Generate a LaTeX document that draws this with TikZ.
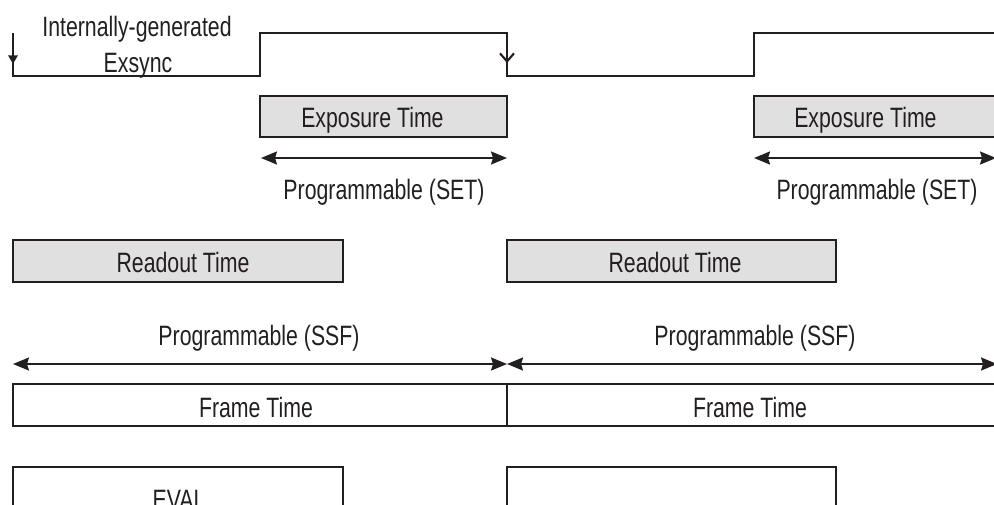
\documentclass[tikz,border=0pt]{standalone}
\usepackage{fontspec}
\setmainfont[FakeStretch=0.76]{Liberation Sans}
\usetikzlibrary{arrows.meta,fit}
\definecolor{ink}{RGB}{35,31,32}
\definecolor{shade}{RGB}{224,224,224}
\begin{document}
\begin{tikzpicture}[x=0.75pt,y=-0.75pt,
  font=\fontsize{21}{25}\selectfont,
  wire/.style={draw=ink, line width=1.6pt},
  box/.style={draw=ink, line width=1.6pt, rectangle, inner sep=0pt},
  shadebox/.style={box, fill=shade},
  span/.style={draw=ink, line width=1.6pt,
    {Stealth[length=12pt,width=9.75pt,inset=1.5pt]}-{Stealth[length=12pt,width=9.75pt,inset=1.5pt]}},
  lbl/.style={anchor=base, text=ink, inner sep=0pt}]
\clip (0,0) rectangle (994,504);

% Exsync waveform
\coordinate (s0) at (13,33);
\coordinate (s1) at (13,76);
\coordinate (r1) at (260,76);
\coordinate (h1) at (260,33);
\coordinate (f1) at (507,33);
\coordinate (l1) at (507,76);
\coordinate (r2) at (754,76);
\coordinate (h2) at (754,33);
\coordinate (e2) at (1000,33);
\draw[wire] (s0) -- (s1) -- (r1) -- (h1) -- (f1) -- (l1) -- (r2) -- (h2) -- (e2);
\coordinate (a0) at (13,64);
\coordinate (a1) at (507,63);
\draw[wire, -{Triangle[length=6.5pt,width=7pt]}] (s0) -- (a0);
\draw[wire, -{Straight Barb[length=6pt,width=10.5pt]}] (f1) -- (a1);
\node[lbl] (exs1) at (137,36) {Internally-generated};
\node[lbl] (exs2) at (138,72) {Exsync};

% exposure windows
\node[shadebox, fit={(260,96) (507,137)}] (exp1) {};
\node[shadebox, fit={(754,96) (1002,137)}] (exp2) {};
\node[lbl, anchor=base west] (expt1) at (301,127) {Exposure Time};
\node[lbl, anchor=base west] (expt2) at (794,127) {Exposure Time};

% SET spans
\coordinate (set1a) at (261,158);
\coordinate (set1b) at (507,158);
\coordinate (set2a) at (754,158);
\coordinate (set2b) at (996,158);
\draw[span] (set1a) -- (set1b);
\draw[span] (set2a) -- (set2b);
\node[lbl] (set1) at (384,199) {Programmable (SET)};
\node[lbl] (set2) at (877,199) {Programmable (SET)};

% readout windows
\node[shadebox, fit={(13,240) (343,282)}] (rd1) {};
\node[shadebox, fit={(507,240) (836,282)}] (rd2) {};
\node[lbl] (rdt1) at (183,272) {Readout Time};
\node[lbl] (rdt2) at (675,272) {Readout Time};

% SSF spans
\coordinate (ssf0) at (13,364);
\coordinate (ssf1) at (507,364);
\coordinate (ssf2) at (997,364);
\draw[span] (ssf0) -- (ssf1);
\draw[span] (ssf1) -- (ssf2);
\node[lbl] (ssft1) at (259,345) {Programmable (SSF)};
\node[lbl] (ssft2) at (755,345) {Programmable (SSF)};

% frame windows
\node[box, fit={(13,384) (507,426)}] (fr1) {};
\node[box, fit={(507,384) (1002,426)}] (fr2) {};
\node[lbl] (frt1) at (256,417) {Frame Time};
\node[lbl] (frt2) at (750,417) {Frame Time};

% EVAL windows
\node[box, fit={(13,467) (343,530)}] (ev1) {};
\node[box, fit={(507,467) (836,530)}] (ev2) {};
\node[lbl] (evt1) at (179,509) {EVAL};
\end{tikzpicture}
\end{document}
